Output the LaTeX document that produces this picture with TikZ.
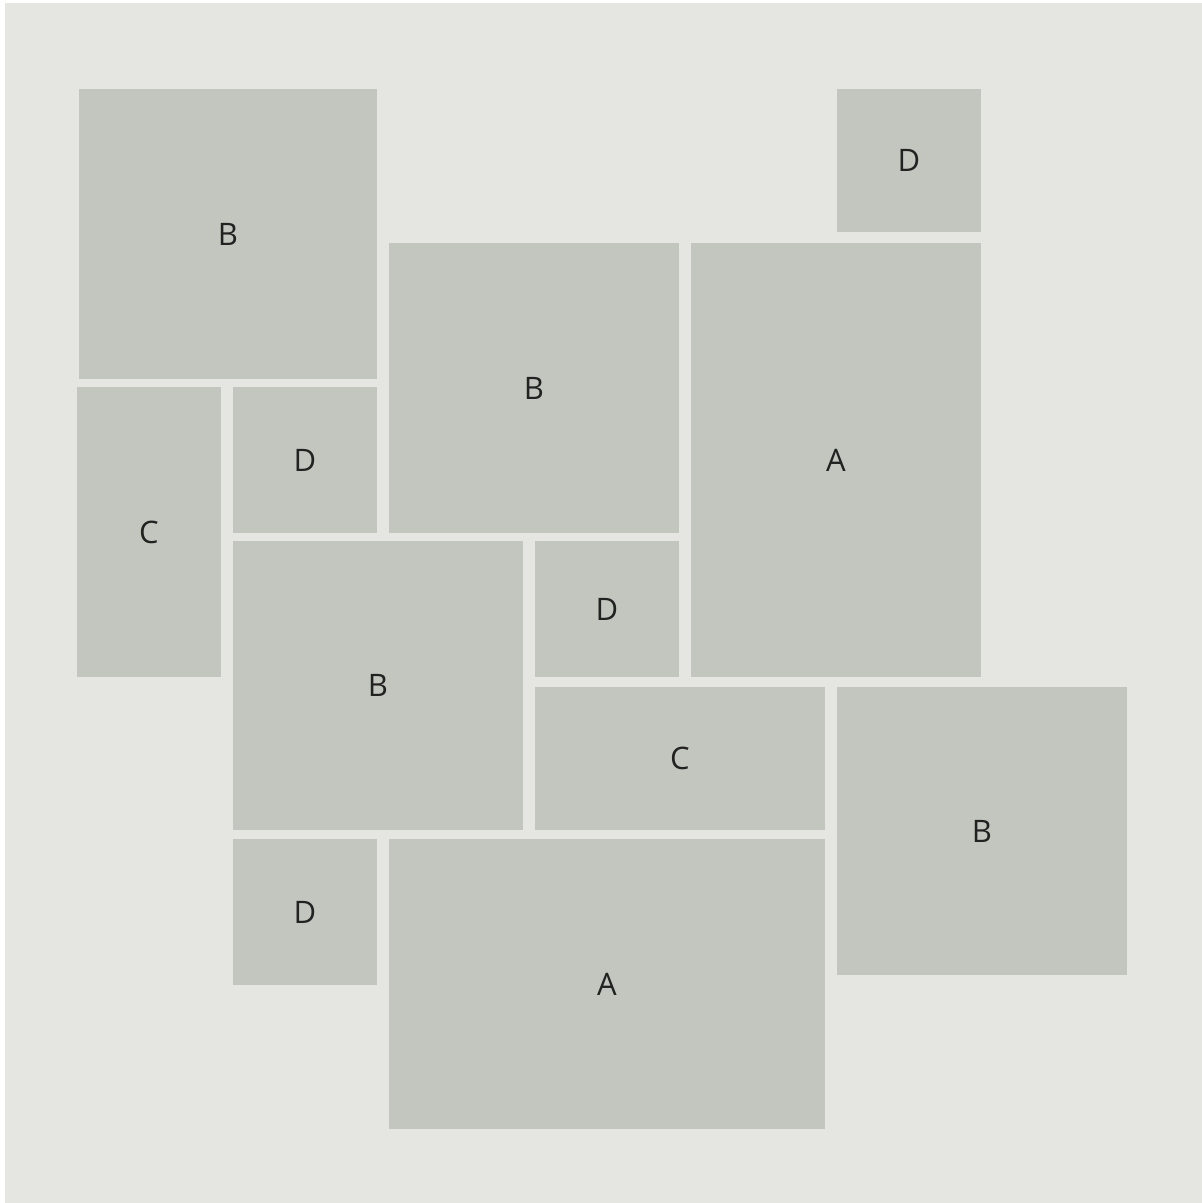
\documentclass[tikz,border=0pt]{standalone}
\usepackage{fontspec}
\setmainfont{Open Sans}
\definecolor{bgc}{HTML}{E5E5E1}
\definecolor{boxc}{HTML}{C3C6BE}
\definecolor{txtc}{HTML}{222222}
\begin{document}
\begin{tikzpicture}[x=1pt,y=-1pt,
  tile/.style={fill=boxc, draw=none, inner sep=0pt, text=txtc,
    font=\fontsize{31}{36}\selectfont}]
\useasboundingbox (0,0) rectangle (1202,1203);
\fill[white] (0,0) rectangle (1202,1203);
\fill[bgc] (5,3) rectangle (1202,1203);
% helper: corners -> node
\newcommand{\tileat}[6]{%
  \node[tile, minimum width={#4-#2}, minimum height={#5-#3}] (#1)
    at ({(#2+#4)/2},{(#3+#5)/2}) {\raisebox{-2pt}{#6}};}
\tileat{b1}{79}{89}{377}{379}{B}
\tileat{d1}{837}{89}{981}{232}{D}
\tileat{b2}{389}{243}{679}{533}{B}
\tileat{a1}{691}{243}{981}{677}{A}
\tileat{c1}{77}{387}{221}{677}{C}
\tileat{d2}{233}{387}{377}{533}{D}
\tileat{b3}{233}{541}{523}{830}{B}
\tileat{d3}{535}{541}{679}{677}{D}
\tileat{c2}{535}{687}{825}{830}{C}
\tileat{b4}{837}{687}{1127}{975}{B}
\tileat{d4}{233}{839}{377}{985}{D}
\tileat{a2}{389}{839}{825}{1129}{A}
\end{tikzpicture}
\end{document}
